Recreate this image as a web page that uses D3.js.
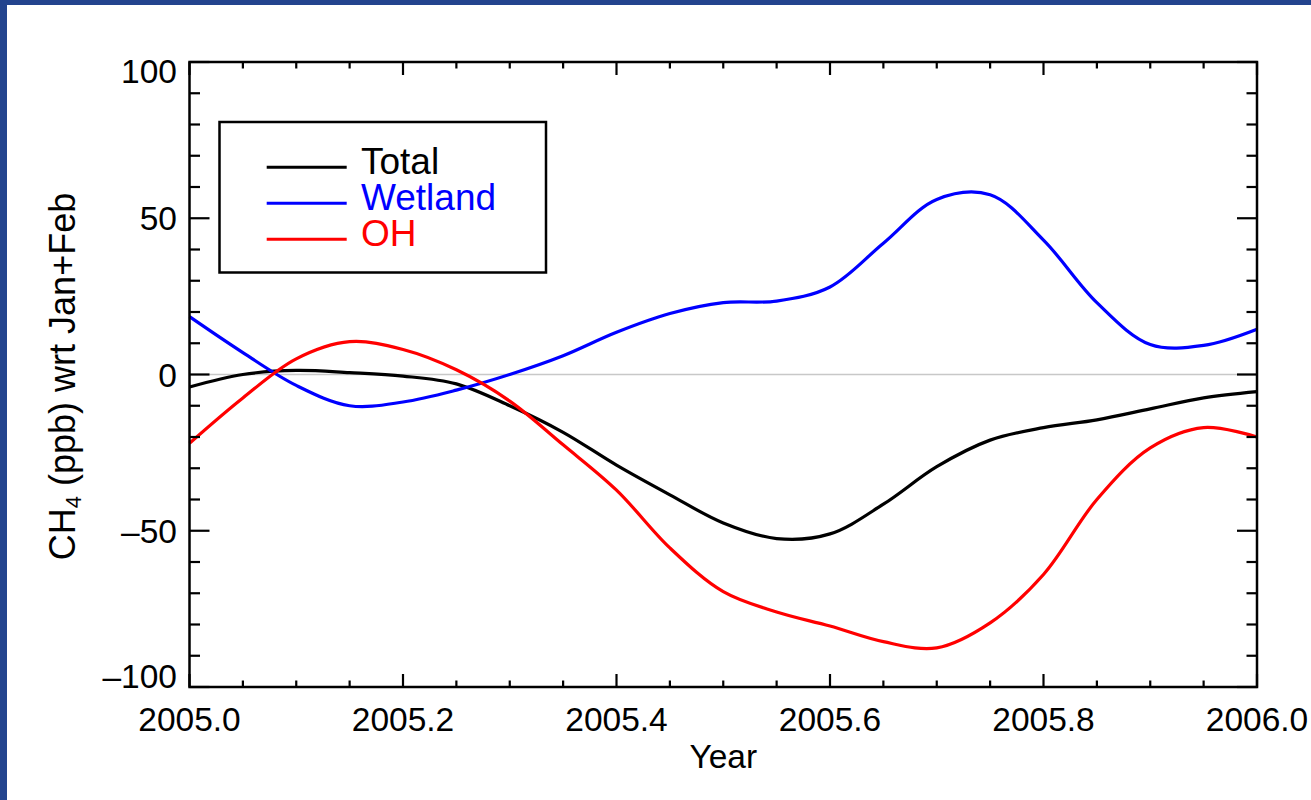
<!DOCTYPE html>
<html>
<head>
<meta charset="utf-8">
<script src="https://cdn.jsdelivr.net/npm/d3@7"></script>
<style>
  html, body { margin: 0; padding: 0; background: #23448e; }
  svg { display: block; }
  text { font-family: "Liberation Sans", Arial, Helvetica, sans-serif; }
</style>
</head>
<body>
<svg id="chart" width="1311" height="800"></svg>
<script>
// Monthly-resolution CH4 anomalies (ppb) relative to Jan+Feb, 2005
const years = [2005.00, 2005.05, 2005.10, 2005.15, 2005.20, 2005.25, 2005.30, 2005.35,
               2005.40, 2005.45, 2005.50, 2005.55, 2005.60, 2005.65, 2005.70, 2005.75,
               2005.80, 2005.85, 2005.90, 2005.95, 2006.00];
const total   = [-4, 0, 1.3, 0.6, -0.5, -3, -10, -18.5, -29, -38.5, -47.5, -52.5,
                 -51, -41.5, -29.5, -21, -17, -14.5, -11, -7.5, -5.5];
const wetland = [18.5, 7, -3.5, -10, -8.8, -5, 0, 6, 13.5, 19.5, 23, 23.5,
                 28, 42, 56, 57.5, 43, 23, 9.6, 9.3, 14.5];
const oh      = [-22, -7.5, 5, 10.5, 8, 1.5, -8.5, -22.5, -37, -55.5, -69.5, -76,
                 -80.5, -85.5, -87.5, -79.5, -64, -40, -23.5, -17, -20];

const seriesNames  = ["Total", "Wetland", "OH"];
const seriesColors = ["#000000", "#0000ff", "#ff0000"];
const seriesValues = [total, wetland, oh];

const xTicks = [2005.0, 2005.2, 2005.4, 2005.6, 2005.8, 2006.0];
const yTicks = [-100, -50, 0, 50, 100];

const svg = d3.select("#chart");
const W = 1311, H = 800;

// page frame
svg.append("rect").attr("x", 0).attr("y", 0).attr("width", W).attr("height", H).attr("fill", "#23448e");
svg.append("rect").attr("x", 7).attr("y", 5).attr("width", W - 7).attr("height", H - 5).attr("fill", "#ffffff");

const plot = { left: 189.5, right: 1257, top: 62, bottom: 687 };

const x = d3.scaleLinear().domain([2005, 2006]).range([plot.left, plot.right]);
const y = d3.scaleLinear().domain([-100, 100]).range([plot.bottom, plot.top]);

// zero reference line
svg.append("line")
  .attr("x1", plot.left).attr("x2", plot.right)
  .attr("y1", y(0)).attr("y2", y(0))
  .attr("stroke", "#c8c8c8").attr("stroke-width", 1.5);

// curves
const line = d3.line()
  .x((d, i) => x(years[i]))
  .y(d => y(d))
  .curve(d3.curveCatmullRom.alpha(0.5));

const curves = svg.append("g");
seriesValues.forEach((vals, k) => {
  curves.append("path")
    .datum(vals)
    .attr("d", line)
    .attr("fill", "none")
    .attr("stroke", seriesColors[k])
    .attr("stroke-width", 3.2)
    .attr("stroke-linejoin", "round");
});

// axes: ticks on all four sides, pointing inward
const tickStroke = 2.2;
const xMinor = d3.range(0, 21).map(i => 2005 + i * 0.05);
const yMinor = d3.range(-100, 101, 10);

const tickG = svg.append("g").attr("stroke", "#000").attr("stroke-width", tickStroke);
xMinor.forEach(t => {
  const major = xTicks.some(v => Math.abs(v - t) < 1e-6);
  const len = major ? 13 : 6.5;
  tickG.append("line").attr("x1", x(t)).attr("x2", x(t)).attr("y1", plot.bottom).attr("y2", plot.bottom - len);
  tickG.append("line").attr("x1", x(t)).attr("x2", x(t)).attr("y1", plot.top).attr("y2", plot.top + len);
});
yMinor.forEach(v => {
  const major = yTicks.includes(v);
  const len = major ? 20 : 10.5;
  tickG.append("line").attr("x1", plot.left).attr("x2", plot.left + len).attr("y1", y(v)).attr("y2", y(v));
  tickG.append("line").attr("x1", plot.right).attr("x2", plot.right - len).attr("y1", y(v)).attr("y2", y(v));
});

// plot frame
svg.append("rect")
  .attr("x", plot.left).attr("y", plot.top)
  .attr("width", plot.right - plot.left).attr("height", plot.bottom - plot.top)
  .attr("fill", "none").attr("stroke", "#000").attr("stroke-width", 2.5);

// tick labels
const fmtY = v => (v < 0 ? "\u2013" + Math.abs(v) : String(v));
svg.append("g").selectAll("text").data(yTicks).join("text")
  .attr("x", plot.left - 12.5)
  .attr("y", v => Math.min(Math.max(y(v), plot.top + 9), plot.bottom - 11))
  .attr("dy", "0.36em")
  .attr("text-anchor", "end")
  .attr("font-size", 33.5)
  .attr("fill", "#000")
  .text(fmtY);

svg.append("g").selectAll("text").data(xTicks).join("text")
  .attr("x", v => x(v))
  .attr("y", 731)
  .attr("text-anchor", "middle")
  .attr("font-size", 33.5)
  .attr("fill", "#000")
  .text(v => v.toFixed(1));

// axis titles
svg.append("text")
  .attr("x", (plot.left + plot.right) / 2)
  .attr("y", 768)
  .attr("text-anchor", "middle")
  .attr("font-size", 33.5)
  .text("Year");

const yTitle = svg.append("text")
  .attr("transform", `translate(75,${(plot.top + plot.bottom) / 2 + 2}) rotate(-90)`)
  .attr("text-anchor", "middle")
  .attr("font-size", 36);
yTitle.append("tspan").text("CH");
yTitle.append("tspan").attr("font-size", 22).attr("dy", 6).text("4");
yTitle.append("tspan").attr("dy", -6).text(" (ppb) wrt Jan+Feb");

// legend
const legend = { x: 219.5, y: 122, w: 326.5, h: 150.5 };
svg.append("rect")
  .attr("x", legend.x).attr("y", legend.y)
  .attr("width", legend.w).attr("height", legend.h)
  .attr("fill", "#fff").attr("stroke", "#000").attr("stroke-width", 2.5);

const legendRows = [167.3, 203.3, 239.3];
seriesNames.forEach((name, k) => {
  svg.append("line")
    .attr("x1", 266.7).attr("x2", 346.7)
    .attr("y1", legendRows[k]).attr("y2", legendRows[k])
    .attr("stroke", seriesColors[k]).attr("stroke-width", 3);
  svg.append("text")
    .attr("x", 361)
    .attr("y", legendRows[k] + 7)
    .attr("font-size", 37)
    .attr("fill", seriesColors[k])
    .text(name);
});
</script>
</body>
</html>
